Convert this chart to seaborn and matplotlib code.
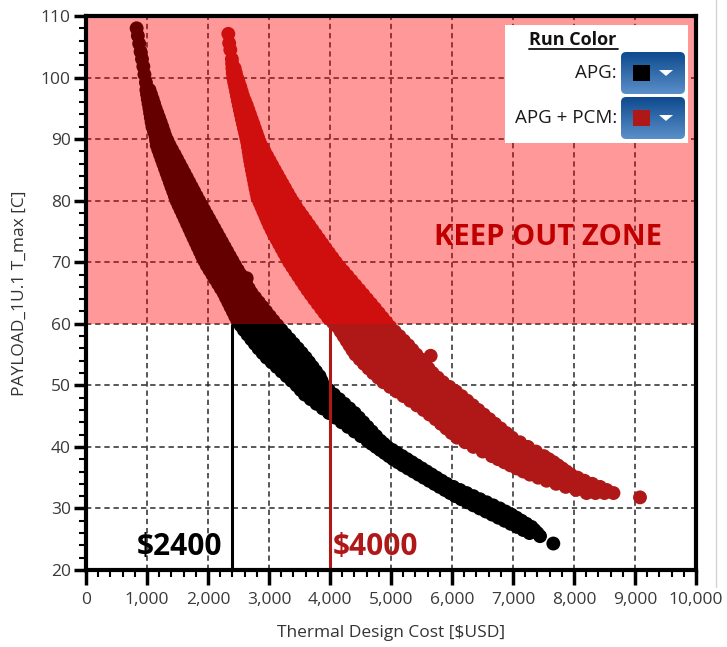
import numpy as np
import pandas as pd
import matplotlib
matplotlib.use("Agg")
import matplotlib.pyplot as plt
import seaborn as sns
from matplotlib.patches import Rectangle, FancyBboxPatch, Polygon
from matplotlib.lines import Line2D
from matplotlib.colors import LinearSegmentedColormap
from matplotlib.ticker import MultipleLocator, FuncFormatter

# Scatter clouds, row by row:
# each T_max level with the design costs seen at that level
apg_tmax = [108.0, 106.8, 105.5, 104.2, 103.0, 101.8, 100.5, 99.2, 98.0, 96.5,
            95.0, 93.5, 92.0, 90.5, 89.0, 87.5, 86.0, 84.5, 83.0, 81.5,
            80.0, 78.5, 77.0, 75.5, 74.0, 72.5, 71.0, 69.5, 68.0, 67.4,
            66.5, 65.0, 63.5, 62.0, 60.5, 59.0, 57.5, 56.0, 54.5, 53.0,
            51.5, 50.0, 48.5, 47.0, 45.5, 44.0, 42.5, 41.0, 40.0, 39.0,
            38.0, 37.0, 36.0, 35.0, 34.0, 33.0, 32.0, 31.0, 30.0, 29.0,
            28.0, 27.0, 26.0, 25.5, 24.3]
apg_cost = [[830], [850], [872], [895], [918], [940], [958], [982],
            [990, 1040], [1013, 1092], [1040, 1140], [1063, 1196],
            [1090, 1170, 1250], [1140, 1220, 1300], [1160, 1265, 1370],
            [1213, 1333, 1453], [1267, 1400, 1533], [1321, 1467, 1613],
            [1375, 1534, 1693], [1430, 1545, 1660, 1773],
            [1484, 1607, 1730, 1853], [1553, 1681, 1809, 1937],
            [1623, 1756, 1888, 2021], [1692, 1830, 1967, 2105],
            [1761, 1904, 2046, 2189], [1831, 1978, 2126, 2273],
            [1901, 2053, 2205, 2357], [1978, 2133, 2288, 2443],
            [2071, 2225, 2379, 2533], [2634],
            [2164, 2317, 2470, 2623], [2257, 2409, 2561, 2713],
            [2332, 2457, 2582, 2708, 2833], [2407, 2544, 2680, 2817, 2953],
            [2482, 2630, 2778, 2925, 3073], [2587, 2741, 2895, 3049, 3203],
            [2707, 2865, 3023, 3180, 3338], [2827, 2989, 3150, 3312, 3473],
            [2961, 3121, 3281, 3441, 3601], [3125, 3273, 3420, 3568, 3715],
            [3288, 3423, 3558, 3694, 3829], [3451, 3598, 3746, 3893],
            [3587, 3746, 3906, 4065], [3779, 3931, 4084, 4236],
            [3984, 4124, 4264, 4404], [4191, 4309, 4427, 4545],
            [4402, 4544, 4686], [4613, 4720, 4827], [4754, 4850, 4941],
            [4895, 5000, 5103], [5036, 5150, 5264], [5193, 5309, 5425],
            [5366, 5476, 5587], [5538, 5643, 5748], [5710, 5812, 5915],
            [5883, 6007, 6132], [6055, 6202, 6350], [6250, 6408, 6567],
            [6454, 6619, 6784], [6658, 6816, 6975], [6862, 7000, 7139],
            [7066, 7185, 7303], [7270, 7400], [7443], [7661]]

# outer edge points of the APG cloud (left / right) between the rows above
apg_edge_tmax = [97.25, 95.75, 94.25, 92.75, 91.25, 89.75, 88.25, 86.75, 85.25, 83.75,
                 82.25, 80.75, 79.25, 77.75, 76.25, 74.75, 73.25, 71.75, 70.25, 68.75,
                 67.25, 65.75, 64.25, 62.75, 61.25, 59.75, 58.25, 56.75, 55.25, 53.75,
                 52.25, 50.75, 49.25, 47.75, 46.25, 44.75, 43.25, 41.75, 40.5, 39.5,
                 38.5, 37.5, 36.5, 35.5, 34.5, 33.5, 32.5, 31.5, 30.5, 29.5,
                 28.5, 27.5, 26.5]
apg_edge_cost = [[1001, 1066], [1026, 1116], [1051, 1168], [1076, 1223], [1115, 1275],
                 [1150, 1335], [1186, 1411], [1240, 1493], [1294, 1573], [1348, 1653],
                 [1402, 1733], [1457, 1813], [1518, 1895], [1588, 1979], [1657, 2063],
                 [1726, 2147], [1796, 2231], [1866, 2315], [1939, 2400], [2024, 2488],
                 [2117, 2578], [2210, 2668], [2294, 2773], [2369, 2893], [2444, 3013],
                 [2534, 3138], [2647, 3270], [2767, 3405], [2894, 3537], [3043, 3658],
                 [3206, 3772], [3369, 3861], [3519, 3979], [3683, 4150], [3881, 4320],
                 [4087, 4474], [4296, 4615], [4507, 4756], [4683, 4884], [4824, 5022],
                 [4965, 5183], [5114, 5344], [5279, 5506], [5452, 5667], [5624, 5831],
                 [5796, 6023], [5969, 6241], [6152, 6458], [6352, 6675], [6556, 6879],
                 [6760, 7057], [6964, 7221], [7168, 7351]]

pcm_tmax = [107.1, 105.6, 104.5, 103.0, 101.5, 100.0, 98.5, 97.0, 95.5, 94.0,
            92.5, 91.0, 89.5, 88.0, 86.5, 85.0, 83.5, 82.0, 80.5, 79.0,
            77.5, 76.0, 74.5, 73.0, 71.5, 70.0, 68.5, 67.0, 65.5, 64.0,
            62.5, 61.0, 59.5, 58.0, 56.5, 55.0, 54.8, 53.5, 52.0, 50.5,
            49.0, 47.5, 46.0, 44.5, 43.0, 41.5, 40.0, 38.5, 37.5, 36.5,
            35.5, 34.5, 33.5, 32.5, 31.8]
pcm_cost = [[2333], [2347], [2366], [2392], [2400, 2437], [2413, 2476],
            [2445, 2529], [2475, 2573], [2506, 2635], [2538, 2613, 2688],
            [2573, 2657, 2742], [2608, 2700, 2795], [2643, 2745, 2848],
            [2667, 2797, 2927], [2691, 2798, 2904, 3011],
            [2719, 2844, 2969, 3094], [2749, 2892, 3035, 3178],
            [2779, 2941, 3102, 3264], [2811, 2946, 3081, 3215, 3350],
            [2876, 3018, 3160, 3302, 3444], [2941, 3094, 3247, 3399, 3552],
            [3006, 3170, 3333, 3497, 3660], [3080, 3252, 3424, 3595, 3767],
            [3164, 3306, 3448, 3591, 3733, 3875],
            [3247, 3394, 3542, 3689, 3837, 3984],
            [3331, 3484, 3637, 3790, 3943, 4096],
            [3429, 3588, 3747, 3905, 4064, 4223],
            [3529, 3666, 3804, 3941, 4078, 4216, 4353],
            [3630, 3772, 3914, 4056, 4198, 4340, 4482],
            [3739, 3884, 4029, 4175, 4320, 4465, 4610],
            [3853, 4001, 4148, 4296, 4443, 4591, 4738],
            [3967, 4116, 4265, 4415, 4564, 4713, 4862],
            [4126, 4269, 4413, 4556, 4699, 4843, 4986],
            [4223, 4376, 4528, 4681, 4833, 4986, 5138],
            [4319, 4457, 4595, 4733, 4871, 5009, 5147, 5285],
            [4416, 4559, 4702, 4845, 4988, 5131, 5274, 5417],
            [5650],
            [4556, 4698, 4840, 4982, 5123, 5265, 5407, 5549],
            [4707, 4846, 4985, 5124, 5264, 5403, 5542, 5681],
            [4876, 5015, 5154, 5293, 5433, 5572, 5712, 5851],
            [5095, 5234, 5372, 5511, 5649, 5788, 5926, 6065],
            [5315, 5471, 5627, 5783, 5938, 6094, 6250],
            [5534, 5684, 5833, 5983, 6132, 6282, 6431],
            [5731, 5878, 6025, 6172, 6319, 6466, 6613],
            [5907, 6055, 6203, 6352, 6500, 6648, 6797],
            [6082, 6232, 6382, 6532, 6683, 6833, 6983],
            [6351, 6500, 6649, 6798, 6947, 7096, 7245],
            [6655, 6797, 6939, 7081, 7223, 7365, 7507],
            [6857, 6992, 7127, 7262, 7396, 7531, 7666],
            [7060, 7209, 7359, 7508, 7658, 7807],
            [7277, 7445, 7613, 7781, 7949],
            [7550, 7705, 7860, 8016, 8171],
            [7864, 8005, 8146, 8287, 8428],
            [8205, 8352, 8500, 8647],
            [9082]]

# outer edge points of the APG + PCM cloud between the rows above
pcm_edge_tmax = [102.25, 100.75, 99.25, 97.75, 96.25, 94.75, 93.25, 91.75, 90.25, 88.75,
                 87.25, 85.75, 84.25, 82.75, 81.25, 79.75, 78.25, 76.75, 75.25, 73.75,
                 72.25, 70.75, 69.25, 67.75, 66.25, 64.75, 63.25, 61.75, 60.25, 58.75,
                 57.25, 55.75, 54.25, 52.75, 51.25, 49.75, 48.25, 46.75, 45.25, 43.75,
                 42.25, 40.75, 39.25, 38.0, 37.0, 36.0, 35.0, 34.0, 33.0]
pcm_edge_cost = [[2396], [2406, 2456], [2429, 2502], [2460, 2551], [2490, 2604],
                 [2522, 2661], [2555, 2715], [2590, 2768], [2625, 2821], [2655, 2887],
                 [2679, 2969], [2705, 3052], [2734, 3136], [2764, 3221], [2795, 3307],
                 [2843, 3397], [2908, 3498], [2973, 3606], [3043, 3713], [3122, 3821],
                 [3205, 3929], [3289, 4040], [3380, 4159], [3479, 4288], [3579, 4417],
                 [3684, 4546], [3796, 4674], [3910, 4800], [4046, 4924], [4174, 5062],
                 [4271, 5211], [4367, 5351], [4486, 5483], [4631, 5615], [4791, 5766],
                 [4985, 5958], [5205, 6157], [5424, 6340], [5632, 6522], [5819, 6705],
                 [5994, 6890], [6216, 7114], [6503, 7376], [6756, 7586], [6958, 7736],
                 [7168, 7878], [7413, 8060], [7707, 8300], [8034, 8537]]

runs = ["APG", "APG + PCM"]
run_colors = ["#000000", "#B01818"]
tmax_limit = 60
budgets = [2400, 4000]
budget_labels = [r"\$2400", r"\$4000"]


def expand(name, levels, costs):
    rows = []
    for t, cs in zip(levels, costs):
        for c in cs:
            rows.append((name, c, t))
    return rows


df = pd.DataFrame(expand(runs[0], apg_tmax, apg_cost) + expand(runs[0], apg_edge_tmax, apg_edge_cost)
                  + expand(runs[1], pcm_tmax, pcm_cost) + expand(runs[1], pcm_edge_tmax, pcm_edge_cost),
                  columns=["Run", "Cost", "Tmax"])

sns.set_style("white")
plt.rcParams["font.family"] = ["Open Sans", "DejaVu Sans"]

W, H = 727, 647
fig = plt.figure(figsize=(W / 100, H / 100), dpi=100)
ax = fig.add_axes([86 / W, 77 / H, 610 / W, 554 / H])


def fx(px):
    return px / W


def fy(py):
    return 1 - py / H


sns.scatterplot(data=df, x="Cost", y="Tmax", hue="Run", palette=dict(zip(runs, run_colors)),
                s=100, linewidth=0, legend=False, ax=ax, zorder=2)

# keep out zone, drawn over the points
ax.axhspan(tmax_limit, 110, color="red", alpha=0.4, lw=0, zorder=3)

ax.set_xlim(0, 10000)
ax.set_ylim(20, 110)
ax.xaxis.set_major_locator(MultipleLocator(1000))
ax.xaxis.set_minor_locator(MultipleLocator(200))
ax.yaxis.set_major_locator(MultipleLocator(10))
ax.yaxis.set_minor_locator(MultipleLocator(2))
ax.xaxis.set_major_formatter(FuncFormatter(lambda v, p: f"{int(v):,}"))

ax.grid(True, which="major", color="#2a2a2a", lw=1.1, ls=(0, (3.5, 2.5)))
ax.set_axisbelow(True)
for s in ax.spines.values():
    s.set_linewidth(3)
    s.set_color("black")
    s.set_zorder(6)

ax.tick_params(which="both", left=True, bottom=True, top=False, right=False, direction="out", color="black")
ax.tick_params(axis="y", which="major", length=9, width=2.5, labelsize=12.5, labelcolor="#3a3a3a", pad=2)
ax.tick_params(axis="x", which="major", length=11, width=2.5, labelsize=12.5, labelcolor="#3a3a3a", pad=5)
ax.tick_params(which="minor", length=5, width=1.5)

ax.set_xlabel(r"Thermal Design Cost [\$USD]", fontsize=12.5, color="#333333", labelpad=12)
ax.set_ylabel("PAYLOAD_1U.1 T_max [C]", fontsize=12.5, color="#333333", labelpad=9)

# budget lines below the limit
ax.vlines(budgets, 20, tmax_limit, colors=run_colors, lw=2.2, zorder=4)
ax.text(budgets[0] - 170, 22.4, budget_labels[0], ha="right", va="baseline",
        fontsize=21.5, fontweight="bold", color=run_colors[0], zorder=5)
ax.text(budgets[1] + 50, 22.4, budget_labels[1], ha="left", va="baseline",
        fontsize=21.5, fontweight="bold", color=run_colors[1], zorder=5)

ax.text(7574, 72.8, "KEEP OUT ZONE", ha="center", va="baseline",
        fontsize=21, fontweight="bold", color="#C00000", zorder=5)

# "Run Color" panel
fig.add_artist(Rectangle((fx(505), fy(143)), fx(688) - fx(505), fy(25) - fy(143),
                         transform=fig.transFigure, facecolor="white", edgecolor="none", zorder=10))
fig.text(fx(573), fy(45), "Run Color", ha="center", va="baseline", fontsize=13,
         fontweight="bold", color="#111111", zorder=11)
fig.add_artist(Line2D([fx(529), fx(618)], [fy(48.5), fy(48.5)], color="#111111", lw=1.3,
                      transform=fig.transFigure, zorder=11))

btn_cmap = LinearSegmentedColormap.from_list("btn", ["#0e4a8e", "#5a8fc9"])
btn_top = [52, 97]
btn_bottom = [94, 139]
label_y = [73, 118]
for i, name in enumerate(runs):
    fig.text(fx(617), fy(label_y[i]), name + ":", ha="right", va="center", fontsize=13.5,
             color="#1a1a1a", zorder=11)
    bax = fig.add_axes([fx(621), fy(btn_bottom[i]), fx(685) - fx(621), (btn_bottom[i] - btn_top[i]) / H],
                       zorder=12)
    grad = np.linspace(0, 1, 64).reshape(-1, 1)
    im = bax.imshow(grad, cmap=btn_cmap, aspect="auto", extent=[0, 1, 0, 1], origin="upper")
    clip = FancyBboxPatch((0, 0), 1, 1, boxstyle="round,pad=0,rounding_size=0.08",
                          mutation_aspect=64 / 42, transform=bax.transAxes,
                          facecolor="none", edgecolor="none")
    bax.add_patch(clip)
    im.set_clip_path(clip)
    bax.add_patch(Rectangle((0.19, 0.30), 0.26, 0.40, transform=bax.transAxes,
                            facecolor=run_colors[i], edgecolor="none"))
    bax.add_patch(Polygon([(0.594, 0.571), (0.813, 0.571), (0.703, 0.43)], closed=True,
                          transform=bax.transAxes, facecolor="white", edgecolor="none"))
    bax.set_xlim(0, 1)
    bax.set_ylim(0, 1)
    bax.set_axis_off()

fig.add_artist(Line2D([fx(716), fx(716)], [fy(0), fy(587)], color="#d4d4d4", lw=1,
                      transform=fig.transFigure))

fig.savefig("out.png", dpi=100)
